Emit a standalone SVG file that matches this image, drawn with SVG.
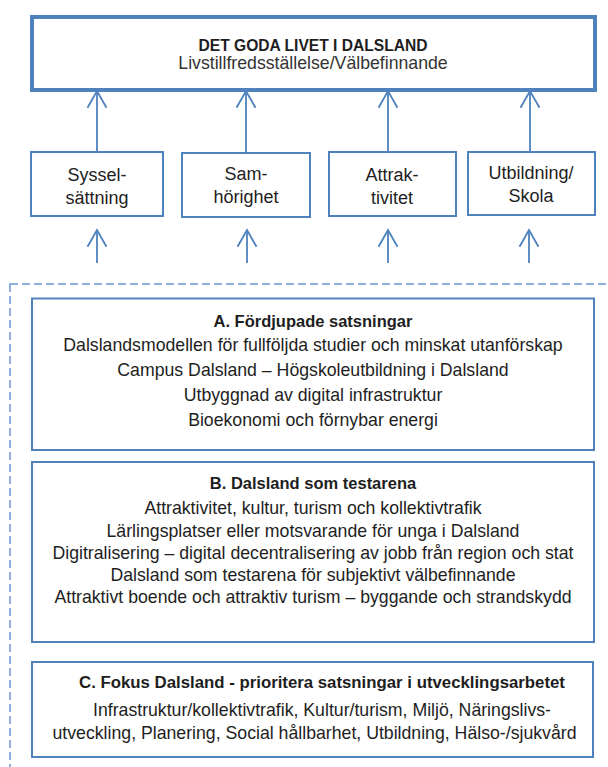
<svg xmlns="http://www.w3.org/2000/svg" width="608" height="767" viewBox="0 0 608 767">
<style>
  text { font-family: "Liberation Sans", Arial, sans-serif; fill: #1e1e1e; text-anchor: middle; }
  .body { font-size: 17.7px; }
  .small { font-size: 18px; }
  .title { font-size: 16.5px; font-weight: bold; }
  .box { fill: #ffffff; stroke: #4F81BD; stroke-width: 2; }
  .conn { stroke: #4F81BD; stroke-width: 1.8; fill: none; marker-end: url(#arrow); }
</style>
<defs>
  <marker id="arrow" viewBox="-18 -11 20 22" refX="0" refY="0" markerWidth="20" markerHeight="22" markerUnits="userSpaceOnUse" orient="auto" overflow="visible">
    <path d="M-16.7,-9.5 L0,0 L-16.7,9.5" fill="none" stroke="#4F81BD" stroke-width="1.8"/>
  </marker>
</defs>
<rect width="608" height="767" fill="#ffffff"/>

<g id="outer-dashed">
  <rect x="10" y="284" width="620" height="500" fill="none" stroke="#8EB0DC" stroke-width="2" stroke-dasharray="8 4"/>
</g>

<g id="top">
  <rect x="32" y="17" width="563" height="73" fill="#ffffff" stroke="#4F81BD" stroke-width="4"/>
  <text x="313" y="51" style="font-size:15.6px;font-weight:bold">DET GODA LIVET I DALSLAND</text>
  <text x="313" y="68.5" class="body" style="fill:#333">Livstillfredsställelse/Välbefinnande</text>
</g>

<g id="sysselsattning">
  <rect x="31" y="152" width="132" height="64" class="box"/>
  <text x="97" y="181" class="small">Syssel-</text>
  <text x="97" y="204" class="small">sättning</text>
</g>
<g id="samhorighet">
  <rect x="182" y="153" width="128" height="64" class="box"/>
  <text x="246" y="180" class="small">Sam-</text>
  <text x="246" y="203" class="small">hörighet</text>
</g>
<g id="attraktivitet">
  <rect x="329" y="152" width="127" height="64" class="box"/>
  <text x="392" y="181" class="small">Attrak-</text>
  <text x="392" y="204" class="small">tivitet</text>
</g>
<g id="utbildning">
  <rect x="468" y="152" width="127" height="63" class="box"/>
  <text x="531" y="179" class="small">Utbildning/</text>
  <text x="531" y="202" class="small">Skola</text>
</g>

<g id="connectors">
  <line x1="97" y1="152" x2="97" y2="91" class="conn"/>
  <line x1="246" y1="153" x2="246" y2="91" class="conn"/>
  <line x1="388" y1="152" x2="388" y2="91" class="conn"/>
  <line x1="530" y1="152" x2="530" y2="91" class="conn"/>
  <line x1="97" y1="263" x2="97" y2="230" class="conn"/>
  <line x1="247" y1="263" x2="247" y2="230" class="conn"/>
  <line x1="388" y1="263" x2="388" y2="230" class="conn"/>
  <line x1="529" y1="263" x2="529" y2="230" class="conn"/>
</g>

<g id="box-a">
  <rect x="32" y="298.5" width="562" height="151.5" class="box"/>
  <text x="313" y="327" class="title">A. Fördjupade satsningar</text>
  <text x="313" y="351" class="body">Dalslandsmodellen för fullföljda studier och minskat utanförskap</text>
  <text x="313" y="376" class="body">Campus Dalsland – Högskoleutbildning i Dalsland</text>
  <text x="313" y="401" class="body">Utbyggnad av digital infrastruktur</text>
  <text x="313" y="426" class="body">Bioekonomi och förnybar energi</text>
</g>

<g id="box-b">
  <rect x="32" y="462" width="562" height="180" class="box"/>
  <text x="313" y="489" class="title">B. Dalsland som testarena</text>
  <text x="313" y="514" class="body">Attraktivitet, kultur, turism och kollektivtrafik</text>
  <text x="313" y="536.5" class="body">Lärlingsplatser eller motsvarande för unga i Dalsland</text>
  <text x="313" y="558.5" class="body">Digitralisering – digital decentralisering av jobb från region och stat</text>
  <text x="313" y="580.5" class="body">Dalsland som testarena för subjektivt välbefinnande</text>
  <text x="313" y="602.5" class="body">Attraktivt boende och attraktiv turism – byggande och strandskydd</text>
</g>

<g id="box-c">
  <rect x="32" y="662" width="561" height="95" class="box"/>
  <text x="322" y="688" class="title" style="font-size:16.8px">C. Fokus Dalsland - prioritera satsningar i utvecklingsarbetet</text>
  <text x="322" y="716" class="body">Infrastruktur/kollektivtrafik, Kultur/turism, Miljö, Näringslivs-</text>
  <text x="314.5" y="739" class="body">utveckling, Planering, Social hållbarhet, Utbildning, Hälso-/sjukvård</text>
</g>
</svg>
